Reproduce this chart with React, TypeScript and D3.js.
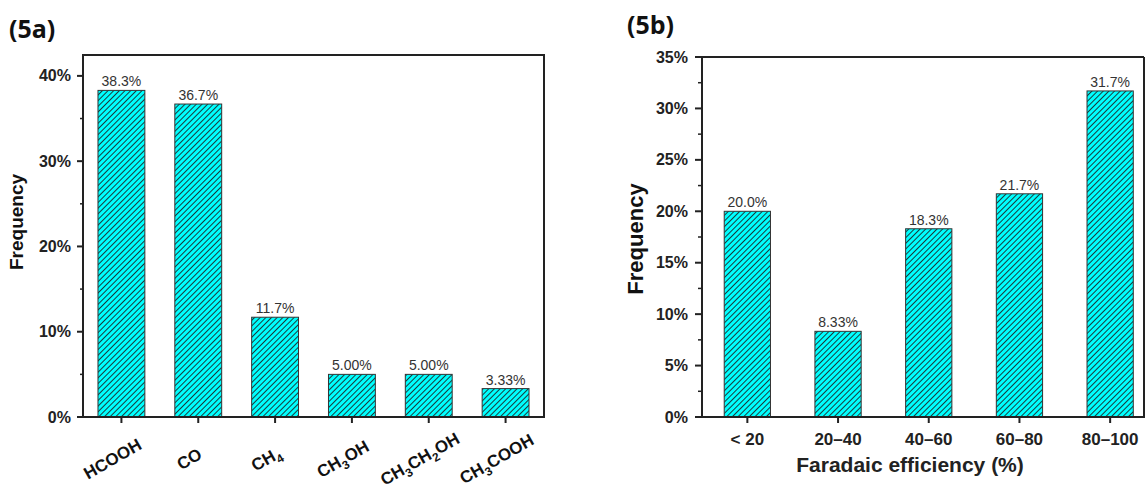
import React from "react";
import * as d3 from "d3";

const productCats = ["HCOOH", "CO", "CH4", "CH3OH", "CH3CH2OH", "CH3COOH"];
const productVals = [38.3, 36.7, 11.7, 5.0, 5.0, 3.33];
const productLabels = ["38.3%", "36.7%", "11.7%", "5.00%", "5.00%", "3.33%"];
const productTicks = [0, 10, 20, 30, 40];
const productMinor = [5, 15, 25, 35];

const feCats = ["< 20", "20–40", "40–60", "60–80", "80–100"];
const feVals = [20.0, 8.33, 18.3, 21.7, 31.7];
const feLabels = ["20.0%", "8.33%", "18.3%", "21.7%", "31.7%"];
const feTicks = [0, 5, 10, 15, 20, 25, 30, 35];
const feMinor = [2.5, 7.5, 12.5, 17.5, 22.5, 27.5, 32.5];

const FONT = "'Liberation Sans', Arial, sans-serif";
const AXIS = "#222";

function Formula({ text, size }: { text: string; size: number }) {
  const parts = text.match(/[A-Za-z]+|\d+/g) || [];
  let sub = false;
  return (
    <>
      {parts.map((p, i) => {
        const isNum = /^\d+$/.test(p);
        let dy = 0;
        if (isNum && !sub) { dy = size * 0.28; sub = true; }
        else if (!isNum && sub) { dy = -size * 0.28; sub = false; }
        return (
          <tspan key={i} dy={dy} fontSize={isNum ? size * 0.7 : size}>{p}</tspan>
        );
      })}
    </>
  );
}

export default function App() {
  // Panel A
  const aL = 83, aR = 544, aT = 55, aB = 417;
  const xa = d3.scaleBand<string>().domain(productCats).range([aL, aR]).paddingInner(0.39).paddingOuter(0.195);
  const ya = d3.scaleLinear().domain([0, 42.45]).range([aB, aT]);

  // Panel B
  const bL = 702, bR = 1144, bT = 57, bB = 417;
  const xb = d3.scaleBand<string>().domain(feCats).range([bL, bL + 5 * 90.7]).paddingInner(0.49).paddingOuter(0.245);
  const yb = d3.scaleLinear().domain([0, 35]).range([bB, bT]);

  return (
    <svg width={1146} height={495} style={{ position: "absolute", left: 0, top: 0, background: "#fff" }} fontFamily={FONT}>
      <defs>
        <pattern id="hatch" patternUnits="userSpaceOnUse" width={4} height={4} patternTransform="rotate(45)">
          <rect width={4} height={4} fill="#00ffff" />
          <line x1={0.5} y1={0} x2={0.5} y2={4} stroke="#1a3232" strokeWidth={0.95} />
        </pattern>
      </defs>

      {/* Panel A */}
      <text x={9} y={38} fontFamily="'Open Sans', sans-serif" fontWeight="bold" fontSize={25} fill="#111">(5a)</text>
      {productCats.map((c, i) => (
        <rect key={c} x={xa(c)} y={ya(productVals[i])} width={xa.bandwidth()} height={aB - ya(productVals[i])}
          fill="url(#hatch)" stroke="#333" strokeWidth={1} />
      ))}
      {productCats.map((c, i) => (
        <text key={c} x={xa(c)! + xa.bandwidth() / 2} y={ya(productVals[i]) - 4} textAnchor="middle"
          fontSize={14} fill="#333">{productLabels[i]}</text>
      ))}
      <rect x={aL} y={aT} width={aR - aL} height={aB - aT} fill="none" stroke={AXIS} strokeWidth={2} />
      {productTicks.map(t => (
        <g key={t}>
          <line x1={aL - 6} x2={aL} y1={ya(t)} y2={ya(t)} stroke={AXIS} strokeWidth={2} />
          <text x={aL - 12} y={ya(t)} dy="0.35em" textAnchor="end" fontWeight="bold" fontSize={16} fill="#222">{t}%</text>
        </g>
      ))}
      {productMinor.map(t => (
        <line key={t} x1={aL - 3} x2={aL} y1={ya(t)} y2={ya(t)} stroke={AXIS} strokeWidth={1.5} />
      ))}
      {productCats.map(c => {
        const cx = xa(c)! + xa.bandwidth() / 2;
        return (
          <g key={c}>
            <line x1={cx} x2={cx} y1={aB} y2={aB + 6} stroke={AXIS} strokeWidth={2} />
            <text transform={`translate(${cx - 6},${464}) rotate(-30)`} textAnchor="middle" dy="0.35em"
              fontWeight="bold" fontSize={17} fill="#111">
              <Formula text={c} size={17} />
            </text>
          </g>
        );
      })}
      <text transform={`translate(23,222) rotate(-90)`} textAnchor="middle" fontWeight="bold" fontSize={19} fill="#111">Frequency</text>

      {/* Panel B */}
      <text x={627} y={34} fontFamily="'Open Sans', sans-serif" fontWeight="bold" fontSize={25} fill="#111">(5b)</text>
      {feCats.map((c, i) => (
        <rect key={c} x={xb(c)} y={yb(feVals[i])} width={xb.bandwidth()} height={bB - yb(feVals[i])}
          fill="url(#hatch)" stroke="#333" strokeWidth={1} />
      ))}
      {feCats.map((c, i) => (
        <text key={c} x={xb(c)! + xb.bandwidth() / 2} y={yb(feVals[i]) - 4} textAnchor="middle"
          fontSize={14} fill="#333">{feLabels[i]}</text>
      ))}
      <path d={`M${bR},${bT}H${bL}V${bB}H${bR}V${bT}`} fill="none" stroke={AXIS} strokeWidth={2} />
      {feTicks.map(t => (
        <g key={t}>
          <line x1={bL - 7} x2={bL} y1={yb(t)} y2={yb(t)} stroke={AXIS} strokeWidth={2} />
          <text x={bL - 14} y={yb(t)} dy="0.35em" textAnchor="end" fontWeight="bold" fontSize={16} fill="#222">{t}%</text>
        </g>
      ))}
      {feMinor.map(t => (
        <line key={t} x1={bL - 4} x2={bL} y1={yb(t)} y2={yb(t)} stroke={AXIS} strokeWidth={1.5} />
      ))}
      {feCats.map(c => {
        const cx = xb(c)! + xb.bandwidth() / 2;
        return (
          <g key={c}>
            <line x1={cx} x2={cx} y1={bB} y2={bB + 6} stroke={AXIS} strokeWidth={2} />
            <text x={cx} y={445} textAnchor="middle" fontWeight="bold" fontSize={17} fill="#222">{c}</text>
          </g>
        );
      })}
      <text x={910} y={472} textAnchor="middle" fontWeight="bold" fontSize={21} fill="#222">Faradaic efficiency (%)</text>
      <text transform={`translate(643,239) rotate(-90)`} textAnchor="middle" fontWeight="bold" fontSize={22} fill="#111">Frequency</text>
    </svg>
  );
}
